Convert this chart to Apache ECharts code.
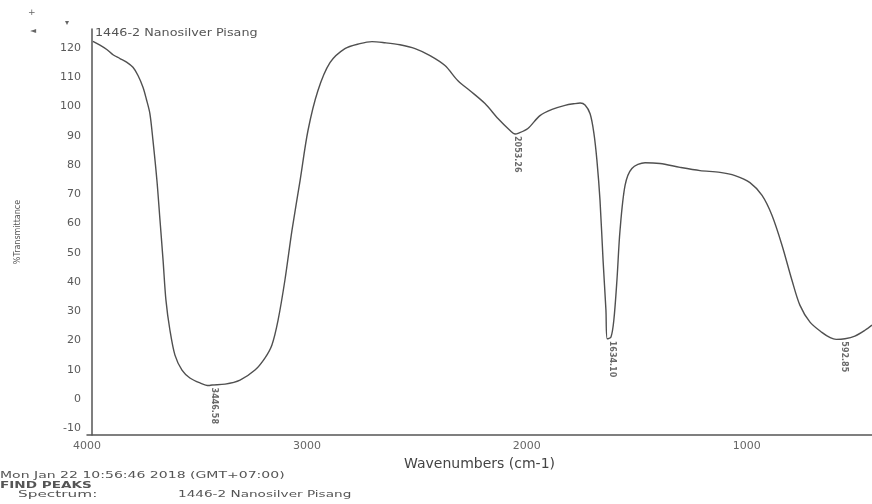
<!DOCTYPE html>
<html>
<head>
<meta charset="utf-8">
<script src="https://cdn.jsdelivr.net/npm/echarts@6/dist/echarts.min.js"></script>
<style>html,body{margin:0;padding:0;background:#fff;}#c{width:872px;height:504px;}</style>
</head>
<body>
<div id="c"></div>
<script>
// Spectrum: wavenumber (cm-1) and %Transmittance
const wavenumbers = [3973,3941,3910,3880,3850,3820,3791,3768,3745,3730,3714,3700,3682,3668,3654,3641,3623,3600,3568,3532,3486,3446,3431,3372,3304,3236,3191,3159,3131,3100,3068,3031,2995,2950,2895,2827,2759,2704,2645,2577,2508,2440,2372,2313,2258,2190,2131,2076,2053,2040,1995,1940,1885,1826,1781,1757,1735,1712,1695,1681,1667,1653,1640,1634,1617,1604,1590,1576,1553,1522,1462,1394,1303,1212,1121,1053,985,930,885,839,794,758,712,658,620,593,553,508,462,430];
const transmittance = [122.3,121.0,119.5,117.6,116.4,115.2,113.4,110.6,106.5,102.5,97.6,88.4,74.7,61.1,47.4,33.8,23.6,15.0,9.9,7.2,5.5,4.6,4.8,5.1,6.5,9.9,14.0,18.5,27.0,40.6,57.6,74.7,91.8,105.4,115.0,119.8,121.5,122.2,121.8,121.1,119.8,117.4,114.0,108.8,105.4,101.0,95.9,91.8,90.6,90.8,92.5,96.9,99.0,100.4,101.0,101.2,100.5,97.5,91.0,81.6,68.0,47.4,30.4,20.6,21.2,27.0,40.6,57.6,73.0,78.8,80.8,80.5,79.2,78.1,77.5,76.4,74.0,69.6,62.8,52.5,40.6,32.1,26.3,22.8,21.0,20.4,20.6,21.5,23.5,25.3];
// Labelled peaks
const peakWavenumbers = [3446.58, 2053.26, 1634.10, 592.85];
const peakValues = [4.6, 90.6, 20.6, 20.4];
const peakLabels = ['3446.58', '2053.26', '1634.10', '592.85'];
const peakShift = [5, 2, 5, 8];
// Axis tick labels
const xTicks = [4000, 3000, 2000, 1000];
const yTicks = [-10, 0, 10, 20, 30, 40, 50, 60, 70, 80, 90, 100, 110, 120];

const font = 'DejaVu Sans';
const chart = echarts.init(document.getElementById('c'), null, {renderer: 'canvas'});
chart.setOption({
  animation: false,
  backgroundColor: '#ffffff',
  grid: {left: 87, right: 0, top: 29, bottom: 69},
  xAxis: {
    type: 'value', inverse: true, min: 430, max: 4000,
    name: 'Wavenumbers (cm-1)', nameLocation: 'middle', nameGap: 16,
    nameTextStyle: {fontFamily: font, fontSize: 14, color: '#444'},
    axisLine: {show: true, onZero: false, lineStyle: {color: '#555', width: 1.5}},
    axisTick: {show: false},
    splitLine: {show: false},
    axisLabel: {customValues: xTicks, formatter: v => String(v), fontFamily: font, fontSize: 11, color: '#666', margin: 6}
  },
  yAxis: {
    type: 'value', min: -12.3, max: 126.5, offset: -5,
    name: '%Transmittance', nameLocation: 'middle', nameGap: 70,
    nameTextStyle: {fontFamily: font, fontSize: 8, color: '#555'},
    axisLine: {show: true, onZero: false, lineStyle: {color: '#555', width: 1.5}},
    axisTick: {show: false},
    splitLine: {show: false},
    axisLabel: {customValues: yTicks, formatter: v => String(v), fontFamily: font, fontSize: 11, color: '#5a5a5a', margin: 11}
  },
  series: [
    {
      type: 'line', data: wavenumbers.map((w, i) => [w, transmittance[i]]),
      smooth: 0.3, showSymbol: false, symbol: 'none',
      lineStyle: {color: '#505050', width: 1.4}
    },
    {
      type: 'scatter', symbolSize: 0,
      data: peakWavenumbers.map((w, i) => ({
        value: [w, peakValues[i]], name: peakLabels[i],
        label: {offset: [0, -peakShift[i]]}
      })),
      label: {
        show: true, formatter: p => p.name, rotate: -90,
        position: 'bottom', distance: 2, align: 'left', verticalAlign: 'middle',
        fontFamily: font, fontSize: 8, fontWeight: 'bold', color: '#444'
      }
    }
  ],
  graphic: [
    {type: 'text', left: 95, top: 28, scaleX: 1.16, style: {text: '1446-2 Nanosilver Pisang', font: '11px "DejaVu Sans"', fill: '#555'}},
    {type: 'text', x: 28, y: 8, style: {text: '+', font: '9px "DejaVu Sans"', fill: '#666'}},
    {type: 'text', x: 30, y: 27, style: {text: '◄', font: '8px "DejaVu Sans"', fill: '#666'}},
    {type: 'text', x: 65, y: 19, style: {text: '▾', font: '8px "DejaVu Sans"', fill: '#666'}},
    {type: 'text', x: 0, y: 471, scaleX: 1.65, style: {text: 'Mon Jan 22 10:56:46 2018 (GMT+07:00)', font: '8.5px "DejaVu Sans"', fill: '#555'}},
    {type: 'text', x: 0, y: 481, scaleX: 1.6, style: {text: 'FIND PEAKS', font: 'bold 8.5px "DejaVu Sans"', fill: '#555'}},
    {type: 'text', x: 18, y: 490, scaleX: 1.8, style: {text: 'Spectrum:', font: '8.5px "DejaVu Sans"', fill: '#555'}},
    {type: 'text', x: 178, y: 490, scaleX: 1.6, style: {text: '1446-2 Nanosilver Pisang', font: '8.5px "DejaVu Sans"', fill: '#555'}}
  ]
});
</script>
</body>
</html>
